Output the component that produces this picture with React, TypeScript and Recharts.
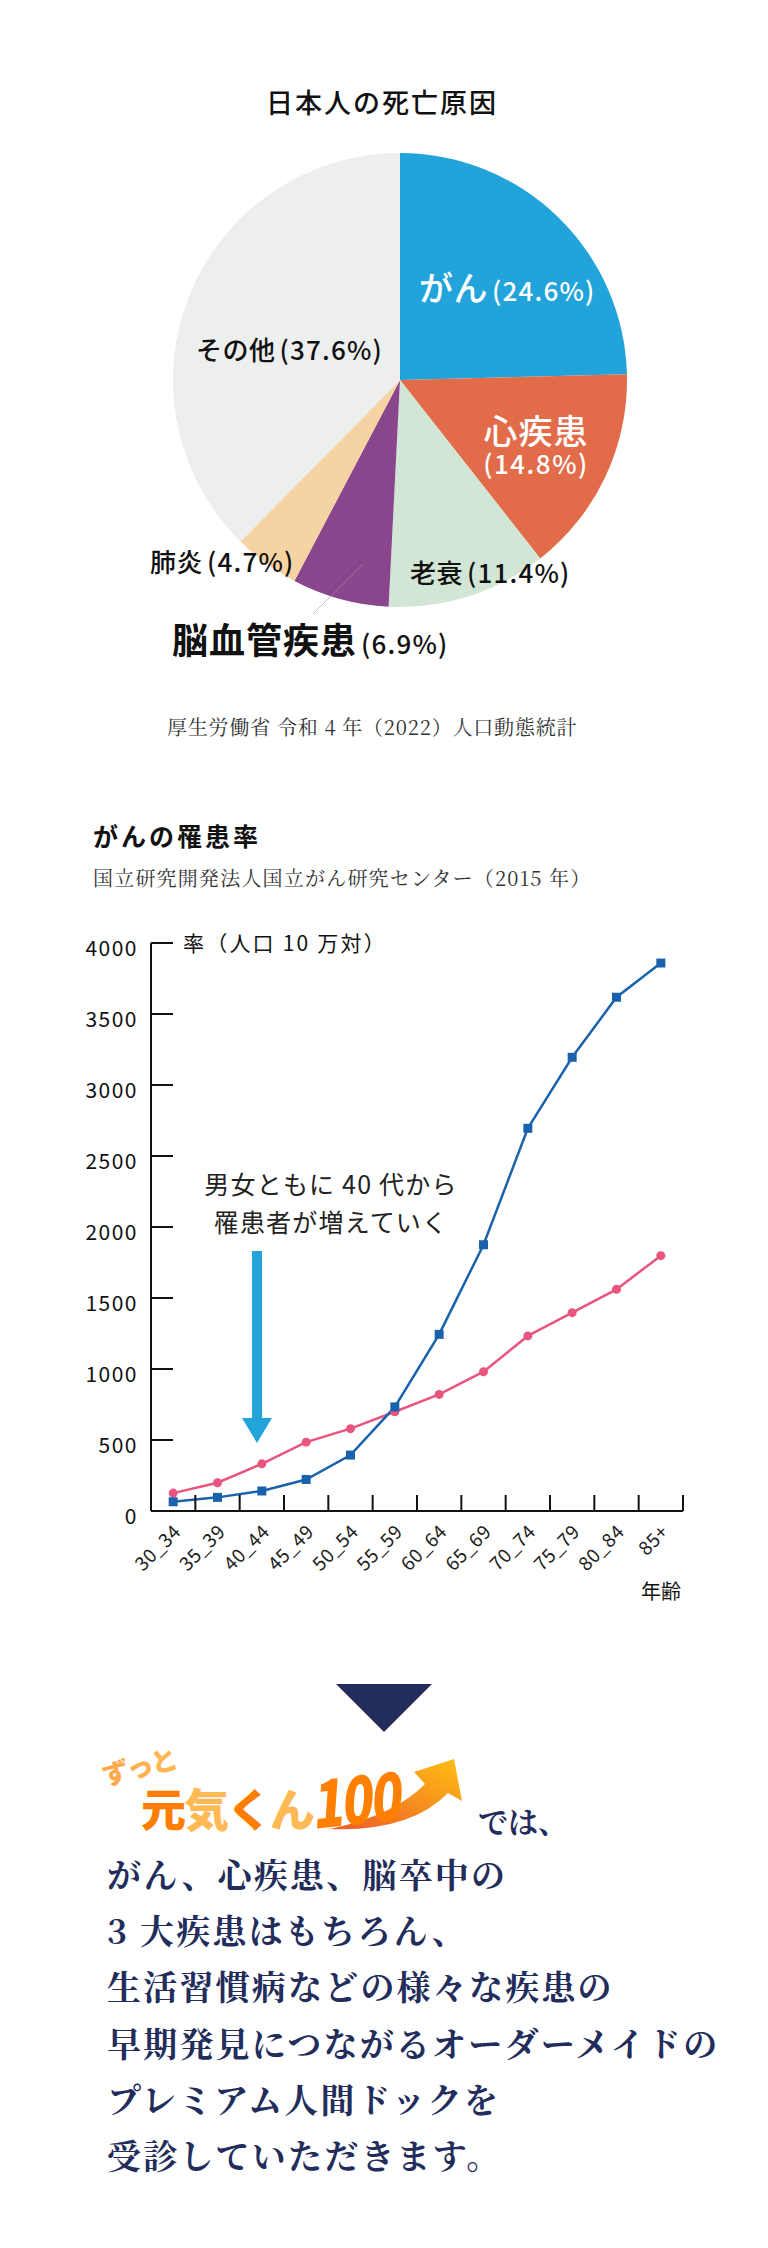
import React from 'react'
import { PieChart, Pie, Cell, LineChart, Line, XAxis, YAxis } from 'recharts'

// 日本人の死亡原因（厚生労働省 令和4年 人口動態統計）
const causeNames = ['がん', '心疾患', '老衰', '脳血管疾患', '肺炎', 'その他']
const causeShares = [24.6, 14.8, 11.4, 6.9, 4.7, 37.6]
const causeColors = ['#22a4db', '#e26c4a', '#d2e6d6', '#89468d', '#f6d3a2', '#edefee']

// がんの罹患率（人口10万対, 2015年）
const ageGroups = ['30_34', '35_39', '40_44', '45_49', '50_54', '55_59', '60_64', '65_69', '70_74', '75_79', '80_84', '85+']
const maleRate = [65, 96, 141, 222, 394, 733, 1244, 1875, 2695, 3195, 3618, 3859]
const femaleRate = [126, 199, 332, 485, 580, 699, 821, 981, 1233, 1397, 1561, 1798]
const rateTicks = [0, 500, 1000, 1500, 2000, 2500, 3000, 3500, 4000]

const bodyLines = [
  'がん、心疾患、脳卒中の',
  '3 大疾患はもちろん、',
  '生活習慣病などの様々な疾患の',
  '早期発見につながるオーダーメイドの',
  'プレミアム人間ドックを',
  '受診していただきます。',
]

const pieData = causeNames.map((name, i) => ({ name, value: causeShares[i] }))
const rateData = ageGroups.map((age, i) => ({ age, male: maleRate[i], female: femaleRate[i] }))

const SANS = '"Noto Sans CJK JP", "Noto Sans", sans-serif'
const SERIF = '"Noto Serif CJK JP", "Noto Sans CJK JP", serif'
const NAVY = '#232d5b'
const BLUE = '#1b62ac'
const PINK = '#e9557e'

const PIE_CX = 395
const PIE_CY = 375

// label placement relative to the pie centre (layout only)
const pieLabelLayout = [
  { dx: 19, dy: -79, anchor: 'start', color: '#fff', big: 34 },
  { dx: 136, dy: 64, anchor: 'middle', color: '#fff', big: 34, twoLine: true },
  { dx: 10, dy: 203, anchor: 'start', color: '#111', big: 26 },
  { dx: -228, dy: 274, anchor: 'start', color: '#111', big: 36, bold: true, leader: [-37, 184, -87, 234] },
  { dx: -250, dy: 192, anchor: 'start', color: '#111', big: 26 },
  { dx: -204, dy: -20, anchor: 'start', color: '#111', big: 26 },
]

function renderPieLabel(props: any) {
  const i = props.index
  const cx = Number(props.cx ?? PIE_CX)
  const cy = Number(props.cy ?? PIE_CY)
  const l: any = pieLabelLayout[i]
  const name = causeNames[i]
  const pct = `(${causeShares[i]}%)`
  const x = cx + l.dx
  const y = cy + l.dy
  if (l.twoLine) {
    return (
      <g key={`lbl-${i}`}>
        <text x={x} y={y} textAnchor="middle" fill={l.color} fontFamily={SANS} fontSize={l.big} fontWeight={500} letterSpacing={1}>{name}</text>
        <text x={x} y={y + 30} textAnchor="middle" fill={l.color} fontFamily={SANS} fontSize={26} fontWeight={500} letterSpacing={1.5}>{pct}</text>
      </g>
    )
  }
  return (
    <g key={`lbl-${i}`}>
      {l.leader && (
        <line x1={cx + l.leader[0]} y1={cy + l.leader[1]} x2={cx + l.leader[2]} y2={cy + l.leader[3]} stroke="#9a9a9a" strokeWidth={0.6} />
      )}
      <text x={x} y={y} textAnchor={l.anchor} fill={l.color} fontFamily={SANS} fontWeight={500}>
        <tspan fontSize={l.big} fontWeight={l.bold ? 700 : 500} letterSpacing={l.bold ? 1 : 0.5}>{name}</tspan>
        <tspan fontSize={26} dx={4} letterSpacing={1.2}>{pct}</tspan>
      </text>
    </g>
  )
}

// line chart frame
const CHART_TOP = 900
const Y_AXIS_W = 151
const PLOT_RIGHT = 683
const BAND = (PLOT_RIGHT - Y_AXIS_W) / ageGroups.length

function AgeTick(props: any) {
  const { x, y, payload } = props
  const bx = x + BAND / 2
  const lx = x + 9
  const ly = y + 22
  return (
    <g>
      <line x1={bx} x2={bx} y1={y} y2={y - 16} stroke="#111" strokeWidth={2} />
      <text x={lx} y={ly} transform={`rotate(-45 ${lx} ${ly})`} textAnchor="end" fontFamily={SANS} fontSize={19} letterSpacing={0.5} fill="#222">
        {payload.value}
      </text>
    </g>
  )
}

function RateTick(props: any) {
  const { x, y, payload } = props
  return (
    <g>
      <text x={x} y={y + 12.5} textAnchor="end" fontFamily={SANS} fontSize={21} letterSpacing={1.5} fill="#111">
        {payload.value}
      </text>
      {payload.value > 0 && <line x1={x + 13} x2={x + 35} y1={y} y2={y} stroke="#111" strokeWidth={2} />}
    </g>
  )
}

function SquareDot(props: any) {
  const { cx, cy, index } = props
  return <rect key={`m-${index}`} x={cx - 4.5} y={cy - 4.5} width={9} height={9} fill={BLUE} />
}

function RoundDot(props: any) {
  const { cx, cy, index } = props
  return <circle key={`f-${index}`} cx={cx} cy={cy} r={4.5} fill={PINK} />
}

export default function App() {
  return (
    <div style={{ position: 'absolute', left: 0, top: 0, width: 768, height: 2248, background: '#fff', overflow: 'hidden' }}>
      <div style={{ position: 'absolute', left: 0, top: 0 }}>
        <PieChart width={768} height={760}>
          <Pie
            data={pieData}
            dataKey="value"
            nameKey="name"
            cx={PIE_CX}
            cy={PIE_CY}
            outerRadius={227}
            startAngle={90}
            endAngle={-270}
            stroke="none"
            label={renderPieLabel}
            labelLine={false}
            isAnimationActive={false}
          >
            {pieData.map((_, i) => (
              <Cell key={i} fill={causeColors[i]} />
            ))}
          </Pie>
        </PieChart>
      </div>

      <div style={{ position: 'absolute', left: 0, top: CHART_TOP }}>
        <LineChart width={768} height={680} data={rateData} margin={{ top: 43, right: 768 - PLOT_RIGHT, bottom: 0, left: 0 }}>
          <XAxis
            dataKey="age"
            scale="band"
            interval={0}
            tickSize={0}
            tickMargin={0}
            tickLine={false}
            axisLine={{ stroke: '#111', strokeWidth: 2 }}
            tick={AgeTick}
            height={69}
          />
          <YAxis
            domain={[0, 4000]}
            ticks={rateTicks}
            interval={0}
            width={Y_AXIS_W}
            tickSize={0}
            tickMargin={13}
            tickLine={false}
            axisLine={{ stroke: '#111', strokeWidth: 2 }}
            tick={RateTick}
          />
          <Line type="linear" dataKey="female" name="女性" stroke={PINK} strokeWidth={2.5} dot={RoundDot} activeDot={false} isAnimationActive={false} />
          <Line type="linear" dataKey="male" name="男性" stroke={BLUE} strokeWidth={2.5} dot={SquareDot} activeDot={false} isAnimationActive={false} />
        </LineChart>
      </div>

      <svg width={768} height={2248} style={{ position: 'absolute', left: 0, top: 0, pointerEvents: 'none' }}>
        <defs>
          <linearGradient id="swoosh" x1="0" y1="1" x2="1" y2="0">
            <stop offset="0%" stopColor="#ec5a2b" />
            <stop offset="100%" stopColor="#ffc012" />
          </linearGradient>
          <linearGradient id="zutto" x1="0" y1="0" x2="1" y2="0">
            <stop offset="0%" stopColor="#ffa64a" />
            <stop offset="100%" stopColor="#ffba55" />
          </linearGradient>
        </defs>

        <text x={266} y={113} fontFamily={SANS} fontSize={27} fontWeight={500} letterSpacing={2} fill="#111">日本人の死亡原因</text>
        <text x={167} y={735} fontFamily={SERIF} fontSize={20} letterSpacing={0.8} fill="#333">厚生労働省 令和 4 年（2022）人口動態統計</text>

        <text x={93} y={846} fontFamily={SANS} fontSize={25} fontWeight={700} letterSpacing={3} fill="#111">がんの罹患率</text>
        <text x={93} y={886} fontFamily={SERIF} fontSize={20} letterSpacing={1.2} fill="#333">国立研究開発法人国立がん研究センター（2015 年）</text>
        <text x={183} y={951} fontFamily={SANS} fontSize={21} letterSpacing={2.2} fill="#111">率（人口 10 万対）</text>
        <text x={681} y={1599} textAnchor="end" fontFamily={SANS} fontSize={20} fill="#111">年齢</text>

        <text x={331} y={1194} textAnchor="middle" fontFamily={SANS} fontSize={25} letterSpacing={1.2} fill="#222">男女ともに 40 代から</text>
        <text x={331} y={1232} textAnchor="middle" fontFamily={SANS} fontSize={25} letterSpacing={1.2} fill="#222">罹患者が増えていく</text>
        <rect x={252} y={1251} width={10} height={168} fill="#22a4db" />
        <polygon points="242,1418 272,1418 257,1443" fill="#22a4db" />

        <polygon points="336,1684 432,1684 384,1732" fill={NAVY} />

        <text x={105} y={1786} transform="rotate(-14 105 1786)" fontFamily={SANS} fontSize={27} fontWeight={900} letterSpacing={-2} fill="url(#zutto)">ずっと</text>
        <text x={141} y={1827} fontFamily={SANS} fontSize={45} fontWeight={900} letterSpacing={-2}>
          <tspan fill="#ff7d00">元</tspan>
          <tspan fill="#ffb955">気</tspan>
          <tspan fill="#ff7d00">く</tspan>
          <tspan fill="#ffb955">ん</tspan>
        </text>
        <path d="M330 1829 Q395 1815 425 1784 L414 1772 L454 1759 L462 1801 L448 1793 Q410 1832 330 1829 Z" fill="url(#swoosh)" />
        <text transform="translate(313 1829) rotate(-6) skewX(-10) scale(0.78 1)" fontFamily={SANS} fontSize={66} fontWeight={900} letterSpacing={-3} fill="#ff8000">100</text>
        <text x={478} y={1833} fontFamily={SERIF} fontSize={30} fontWeight={700} fill={NAVY}>では、</text>

        {bodyLines.map((t, i) => (
          <text key={i} x={107} y={1888 + i * 56.2} fontFamily={SERIF} fontSize={34} fontWeight={700} letterSpacing={2.2} fill={NAVY}>{t}</text>
        ))}
      </svg>
    </div>
  )
}
